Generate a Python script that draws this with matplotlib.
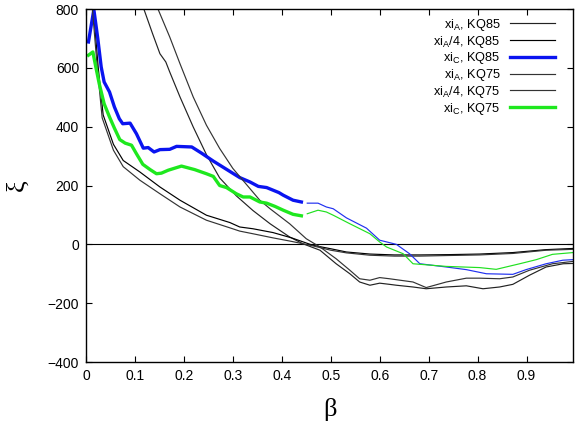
import matplotlib
matplotlib.use("Agg")
import matplotlib.pyplot as plt

plt.rcParams['font.family'] = ['Liberation Sans', 'DejaVu Sans']
plt.rcParams['mathtext.fontset'] = 'custom'
plt.rcParams['mathtext.rm'] = 'Liberation Sans'
plt.rcParams['mathtext.it'] = 'Liberation Sans'

# xi_A (steep) curves
xa85_b = [0.11, 0.119, 0.136, 0.151, 0.163, 0.171, 0.192, 0.219, 0.246, 0.273, 0.307, 0.341,
          0.376, 0.416, 0.443, 0.478, 0.511, 0.539, 0.559, 0.58, 0.60, 0.62, 0.634, 0.668,
          0.695, 0.736, 0.777, 0.811, 0.845, 0.872, 0.906, 0.94, 0.975, 0.995]
xa85_v = [830, 796, 716, 648, 620, 586, 501, 399, 305, 226, 165, 115,
          70, 25, 2, -20, -66, -100, -128, -139, -132, -136, -139, -145,
          -151, -145, -141, -151, -145, -136, -105, -77, -66, -65]

xa75_b = [0.14, 0.148, 0.171, 0.192, 0.219, 0.246, 0.273, 0.3, 0.328, 0.355, 0.376, 0.416,
          0.45, 0.478, 0.511, 0.539, 0.559, 0.58, 0.60, 0.62, 0.668, 0.695, 0.736, 0.777,
          0.804, 0.845, 0.872, 0.906, 0.953, 0.995]
xa75_v = [830, 796, 705, 614, 501, 405, 326, 258, 203, 150, 121, 70,
          19, -9, -49, -88, -117, -122, -113, -117, -128, -147, -128, -115,
          -115, -117, -111, -88, -66, -58]

# xi_A/4 (shallow) curves
xq85_b = [0.012, 0.015, 0.025, 0.035, 0.056, 0.076, 0.11, 0.151, 0.192, 0.246, 0.294, 0.314,
          0.341, 0.382, 0.42, 0.463, 0.50, 0.532, 0.58, 0.63, 0.682, 0.74, 0.804, 0.872,
          0.94, 0.995]
xq85_v = [880, 800, 600, 440, 340, 285, 246, 195, 150, 99, 74, 59,
          53, 40, 22, -3, -15, -26, -33, -36, -36, -35, -33, -28,
          -18, -14]

xq75_b = [0.010, 0.013, 0.023, 0.033, 0.056, 0.076, 0.11, 0.151, 0.192, 0.246, 0.294, 0.314,
          0.341, 0.382, 0.42, 0.463, 0.50, 0.532, 0.58, 0.63, 0.682, 0.74, 0.804, 0.872,
          0.94, 0.995]
xq75_v = [880, 800, 600, 430, 320, 264, 218, 172, 127, 82, 56, 45,
          36, 22, 10, -5, -20, -29, -37, -40, -40, -38, -36, -31,
          -20, -17]

# xi_C, KQ85 (thick part and thin continuation)
xc85_b = [0.005, 0.016, 0.024, 0.031, 0.037, 0.048, 0.058, 0.068, 0.075, 0.09, 0.103, 0.117,
          0.127, 0.139, 0.151, 0.171, 0.185, 0.216, 0.236, 0.26, 0.287, 0.314, 0.335, 0.352,
          0.369, 0.394, 0.403, 0.423, 0.44]
xc85_v = [688, 798, 700, 603, 552, 518, 467, 427, 410, 412, 376, 327,
          329, 314, 322, 323, 333, 331, 310, 283, 255, 227, 212, 197,
          193, 176, 167, 150, 144]
xc85t_b = [0.452, 0.474, 0.491, 0.505, 0.532, 0.573, 0.60, 0.634, 0.661, 0.682, 0.736, 0.777,
           0.818, 0.872, 0.899, 0.94, 0.974, 0.995]
xc85t_v = [140, 140, 127, 121, 90, 55, 14, 0, -32, -66, -77, -86,
           -100, -102, -86, -66, -54, -52]

# xi_C, KQ75
xc75_b = [0.005, 0.014, 0.02, 0.027, 0.037, 0.048, 0.058, 0.069, 0.08, 0.093, 0.103, 0.116,
          0.131, 0.144, 0.154, 0.168, 0.195, 0.222, 0.246, 0.26, 0.273, 0.287, 0.307, 0.321,
          0.335, 0.355, 0.369, 0.386, 0.403, 0.423, 0.44]
xc75_v = [643, 654, 603, 546, 478, 433, 395, 356, 344, 337, 308, 272,
          254, 240, 242, 252, 266, 254, 240, 231, 200, 193, 172, 161,
          161, 144, 140, 129, 116, 102, 97]
xc75t_b = [0.452, 0.474, 0.491, 0.505, 0.539, 0.58, 0.60, 0.614, 0.648, 0.668, 0.736, 0.804,
           0.838, 0.886, 0.92, 0.953, 0.995]
xc75t_v = [104, 116, 110, 99, 70, 36, 8, -9, -32, -66, -75, -79,
           -85, -66, -52, -34, -28]

fig = plt.figure(figsize=(5.75, 4.23), dpi=100)
ax = fig.add_axes([0.1496, 0.1442, 0.8470, 0.8345])

ax.axhline(0, color='black', lw=0.8)

ax.plot(xa85_b, xa85_v, color='#222222', lw=0.85, label=r'xi$_\mathrm{A}$, KQ85')
ax.plot(xq85_b, xq85_v, color='black', lw=0.85, label=r'xi$_\mathrm{A}$/4, KQ85')
ax.plot(xc85_b, xc85_v, color='#0a14f0', lw=2.4, label=r'xi$_\mathrm{C}$, KQ85')
ax.plot(xa75_b, xa75_v, color='#333333', lw=0.85, label=r'xi$_\mathrm{A}$, KQ75')
ax.plot(xq75_b, xq75_v, color='#333333', lw=0.85, label=r'xi$_\mathrm{A}$/4, KQ75')
ax.plot(xc75_b, xc75_v, color='#1ee81e', lw=2.4, label=r'xi$_\mathrm{C}$, KQ75')
ax.plot(xc85t_b, xc85t_v, color='#2030f0', lw=0.85)
ax.plot(xc75t_b, xc75t_v, color='#20e020', lw=0.85)

ax.set_xlim(0, 0.995)
ax.set_ylim(-400, 800)
ax.set_xticks([0, 0.1, 0.2, 0.3, 0.4, 0.5, 0.6, 0.7, 0.8, 0.9])
ax.set_xticklabels(['0', '0.1', '0.2', '0.3', '0.4', '0.5', '0.6', '0.7', '0.8', '0.9'])
ax.set_yticks([-400, -200, 0, 200, 400, 600, 800])
ax.tick_params(direction='in', top=True, right=True, length=4, width=0.8, labelsize=10, pad=5)
for s in ax.spines.values():
    s.set_linewidth(1.0)

ax.set_xlabel('β', family=['Liberation Serif'], fontsize=19, labelpad=11)
ax.set_ylabel('ξ', family=['Liberation Serif'], fontsize=19, rotation=90, labelpad=14)

leg = ax.legend(loc='upper right', bbox_to_anchor=(0.963, 0.978), frameon=False,
                markerfirst=False, fontsize=9.2, handlelength=3.5, labelspacing=0.06,
                borderaxespad=0, borderpad=0, handletextpad=0.75)

fig.savefig('out.png', dpi=100)
